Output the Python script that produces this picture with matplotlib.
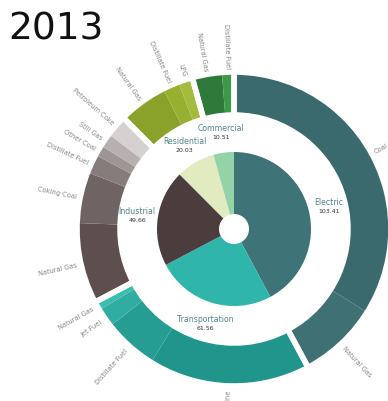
import matplotlib
matplotlib.use("Agg")
import matplotlib.pyplot as plt
import numpy as np

year = "2013"

# inner pie: energy use by sector
sectors = ["Electric", "Transportation", "Industrial", "Residential", "Commercial"]
sector_values = [103.41, 61.56, 49.66, 20.03, 10.51]
sector_colors = ["#3e7377", "#2fb5aa", "#4b3d3e", "#e2eabf", "#94d3a7"]

# outer ring: fuels inside each sector (same order, clockwise from the top)
fuel_labels = ["Coal", "Natural Gas",
               "Motor Gasoline", "Distillate Fuel", "Jet Fuel", "Natural Gas",
               "Natural Gas", "Coking Coal", "Distillate Fuel", "Other Coal", "Still Gas", "Petroleum Coke",
               "Natural Gas", "Distillate Fuel", "LPG",
               "Natural Gas", "Distillate Fuel"]
fuel_values = [83.1, 20.31,
               40.9, 13.6, 4.8, 2.26,
               20.4, 12.9, 4.8, 2.7, 3.4, 5.46,
               12.3, 4.1, 3.63,
               7.5, 3.01]
fuel_colors = ["#3a6a6e", "#3f7174",
               "#20958b", "#269d93", "#30ada2", "#3cbdb2",
               "#5c4f4e", "#6f6463", "#877c7c", "#9f9595", "#b8b0b0", "#d5d1d1",
               "#8aa12a", "#98b02f", "#a5bb3d",
               "#2e7a3a", "#3d9a48"]

fig = plt.figure(figsize=(3.88, 4.02), dpi=100)
ax = fig.add_axes([0, 0, 1, 1])
cx, cy = 234, 172  # pie centre in pixel units

ax.pie(sector_values, colors=sector_colors, startangle=90, counterclock=False,
       radius=77, center=(cx, cy), wedgeprops=dict(width=62, linewidth=0))
ax.pie(fuel_values, colors=fuel_colors, startangle=90, counterclock=False,
       radius=157, center=(cx, cy), wedgeprops=dict(width=43, linewidth=0))
# white gaps between the sector groups of the ring
ax.pie(sector_values, startangle=90, counterclock=False, radius=157, center=(cx, cy),
       wedgeprops=dict(width=43, facecolor="none", edgecolor="white", linewidth=4))

# sector labels in the white band
total = sum(sector_values)
ends = np.cumsum(sector_values) / total * 360
mids = ends - np.array(sector_values) / total * 180
for name, val, a in zip(sectors, sector_values, mids):
    x = cx + 98 * np.sin(np.radians(a))
    y = cy + 98 * np.cos(np.radians(a))
    ax.text(x, y + 4, name, ha="center", va="center", fontsize=5.6, color="#4f8589")
    ax.text(x, y - 5, f"{val:.2f}", ha="center", va="center", fontsize=4.5, color="#333333")

# fuel labels radiating outward
fends = np.cumsum(fuel_values) / total * 360
fmids = fends - np.array(fuel_values) / total * 180
for lab, a in zip(fuel_labels, fmids):
    x = cx + 161 * np.sin(np.radians(a))
    y = cy + 161 * np.cos(np.radians(a))
    theta = 90 - a
    if a <= 180:
        ax.text(x, y, lab, rotation=theta, rotation_mode="anchor", ha="left", va="center",
                fontsize=4.8, color="#858585")
    else:
        ax.text(x, y, lab, rotation=theta + 180, rotation_mode="anchor", ha="right", va="center",
                fontsize=4.8, color="#858585")

ax.text(8, 362, year, fontsize=27, family="Liberation Sans Narrow", color="#111111", va="baseline")

ax.set_xlim(0, 388)
ax.set_ylim(0, 402)
ax.set_aspect("equal")
ax.axis("off")

fig.savefig("out.png", dpi=100, facecolor="white")
